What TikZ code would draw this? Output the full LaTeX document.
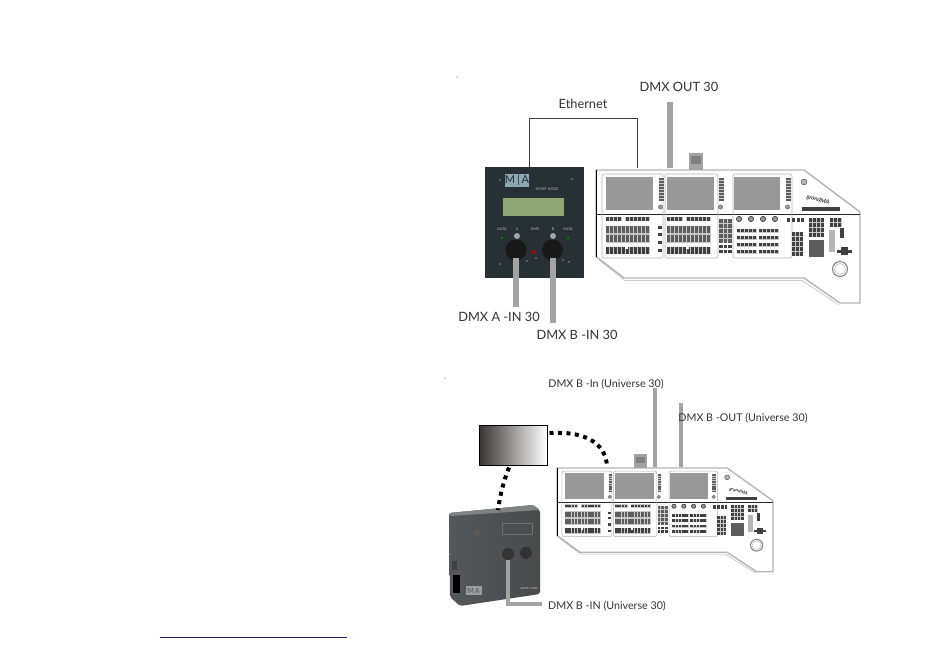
\documentclass[tikz,border=0pt]{standalone}
\usepackage{fontspec}
\setmainfont{Lato}
\usepackage{xcolor}
\definecolor{MAtext}{HTML}{333333}
\definecolor{MAcable}{HTML}{A3A3A3}
\definecolor{MAscreen}{HTML}{989898}
\definecolor{MAkey}{HTML}{404040}
\definecolor{MAband}{HTML}{C8C8C8}
\definecolor{MAedge}{HTML}{B5B5B5}
\definecolor{MAbox}{HTML}{273034}
\definecolor{MAlcd}{HTML}{8FA874}
\definecolor{MAlogo}{HTML}{8DA7B3}
\definecolor{MAdevice}{HTML}{55585A}
\definecolor{MAfade}{HTML}{3A3232}
\definecolor{MAlink}{HTML}{2C1C6C}
\usetikzlibrary{calc, positioning}

\begin{document}
\begin{tikzpicture}[x=1pt, y=-1pt]
\tikzset{
  biglabel/.style={MAtext, font=\fontsize{12.8}{15}\selectfont, inner sep=0},
  smalllabel/.style={MAtext, font=\fontsize{10.7}{12}\selectfont, inner sep=0},
  tinylabel/.style={white!75!black, font=\fontsize{3.6}{4}\selectfont, inner sep=0},
  cable/.style={MAcable, line width=6pt},
  thincable/.style={MAcable, line width=4pt},
  link/.style={black, line width=4pt, dash pattern=on 4pt off 4.5pt},
  key/.style={fill=MAkey},
  softkey/.style={fill=MAkey!85},
  band/.style={fill=MAband},
  section/.style={MAedge, line width=0.6pt, rounded corners=2pt},
  console/.pic={
    % body
    \draw[MAedge, line width=1.4pt, fill=white] (0,0) -- (208,0) -- (264,42) -- (264,133)
      -- (244,133) -- (208,108) -- (28,108) -- (2,88) -- (0,87) -- cycle;
    \draw[MAedge, line width=0.5pt] (3,90) -- (29,110.5) -- (206,110.5) -- (243,135);
    \draw[black, line width=1pt] (0,0) -- (0,87);
    \draw[black!85, line width=0.9pt] (0,44) -- (264,44);
    % sections
    \draw[section] (6,4) rectangle (67,88);
    \draw[section] (69,4) rectangle (122,88);
    \draw[section] (137,4) rectangle (196,88);
    % screens
    \fill[MAscreen] (10,7) rectangle (57,40);
    \fill[MAscreen] (71,7) rectangle (118,40);
    \fill[MAscreen] (138,7) rectangle (184,40);
    % softkeys next to the screens
    \foreach \x in {63,123,190} {
      \fill[band] (\x,8) rectangle ++(4.5,23);
      \foreach \y in {8,11,...,29}
        \fill[softkey] (\x,\y) rectangle ++(4.5,2);
      \draw[MAkey!80, fill=MAscreen] (\x+1.5,37) circle (2.2);
    }
    % executor keys and faders
    \foreach \s in {0,61} {
      \fill[band] (\s+10,46.5) rectangle ++(43.5,4.5);
      \fill[band] (\s+10,55.5) rectangle ++(43.5,17);
      \fill[band] (\s+10,76.5) rectangle ++(43.5,7.5);
      \foreach \x in {10,14,18,22,26,30,34,38,42,46,50} {
        \fill[key] (\s+\x,47) rectangle ++(3,3.5);
        \fill[softkey] (\s+\x,56) rectangle ++(3,7);
        \fill[softkey] (\s+\x,65) rectangle ++(3,7);
        \fill[key] (\s+\x,77) rectangle ++(3,6.5);
      }
      \fill[white] (\s+25.8,46) rectangle ++(3.4,5);
      \fill[white] (\s+29,75) rectangle ++(2.5,4);
    }
    % centre column
    \foreach \y in {56,63,71,79}
      \fill[key] (62,\y) rectangle ++(4,3);
    \fill[band] (123,49) rectangle (136,72);
    \foreach \x in {123,127.5,132} {
      \foreach \y in {49,54,...,69}
        \fill[softkey] (\x,\y) rectangle ++(3.5,3.6);
      \foreach \y in {75,79.5}
        \fill[key] (\x,\y) rectangle ++(3.5,3.4);
    }
    % encoders
    \foreach \x in {143,155,167,179}
      \draw[MAkey, line width=0.7pt, fill=MAscreen] (\x,49) circle (2.6);
    % programmer keys
    \foreach \x in {141,145,149,153,157,163,167,171,175,179} {
      \foreach \y in {59,66,73,80} {
        \fill[band] (\x,\y-0.5) rectangle ++(4,4.2);
        \fill[key] (\x,\y) rectangle ++(3,3.2);
      }
    }
    % right hand blocks
    \foreach \x in {191,196,201,205} 
      \fill[key] (\x,48) rectangle ++(3,4);
    \fill[band] (196,62) rectangle (207,86);
    \foreach \x in {196,200,204} {
      \foreach \y in {62,67,...,82}
        \fill[key] (\x,\y) rectangle ++(3,3.6);
    }
    \fill[band] (213,48) rectangle (228,67);
    \foreach \x in {213,217,221,225} {
      \foreach \y in {48,53,58,63}
        \fill[key] (\x,\y) rectangle ++(3,3.6);
    }
    \fill[MAkey!85] (213,70) rectangle (228,87);
    \fill[band] (234,48) rectangle (246,57);
    \foreach \x in {234,238,242} {
      \foreach \y in {48,53}
        \fill[key] (\x,\y) rectangle ++(3,3.6);
    }
    \fill[key] (244,58) rectangle ++(4,10);
    \fill[MAscreen!70] (233,60) rectangle ++(6,22);
    % cursor cross and wheel
    \fill[key] (245,77) rectangle ++(7,8);
    \fill[key] (241,79.5) rectangle ++(15,3);
    \draw[MAedge!70!black, line width=1pt] (244,99) circle (7.5);
    \draw[MAedge, line width=0.5pt] (244,99) circle (5.5);
    % logo field
    \draw[MAkey, fill=MAedge] (208,12) circle (3);
    \node[black, rotate=-15, transform shape, font=\fontsize{6}{6}\itshape\selectfont, inner sep=0] (brand) at (222,30) {grandMA};
    \fill[MAkey] (206,37) rectangle (244,41);
  },
}
  \useasboundingbox (0,0) rectangle (950,648);

  % Upper setup: sport node with console
  \node[fill=MAbox, minimum width=99pt, minimum height=111pt, inner sep=0] (sportA) at (534.5,222.5) {};
  \node[fill=MAlogo, minimum width=24pt, minimum height=13pt, inner sep=0, font=\fontsize{11}{11}\selectfont, text=MAbox] (logoA) at (517,180.5) {M\,|\,A};
  \node[tinylabel] (nameA) at (547,189) {SPORT NODE};
  \node[fill=MAlcd, minimum width=61pt, minimum height=18pt, inner sep=0] (lcdA) at (533.5,207) {};
  \node[tinylabel] (dataAl) at (502,229) {DATA};
  \node[tinylabel] (portAl) at (517,229) {A};
  \node[tinylabel] (dmxAl) at (535,229) {DMX};
  \node[tinylabel] (portBl) at (553,229) {B};
  \node[tinylabel] (dataBl) at (568,229) {DATA};
  \node[circle, fill=black!90, minimum size=21pt, inner sep=0] (xlrA) at (516,250) {};
  \node[circle, fill=black!90, minimum size=21pt, inner sep=0] (xlrB) at (552.5,250) {};
  \node[circle, fill=black!35, minimum size=6pt, inner sep=0] (latchA) at (517,236) {};
  \node[circle, fill=black!35, minimum size=6pt, inner sep=0] (latchB) at (553,236) {};
  \node[circle, fill=red!70!black, minimum size=4pt, inner sep=0] (ledA) at (533.5,252) {};
  \node[circle, fill=green!55!black, minimum size=2.5pt, inner sep=0] (ledB) at (502,238) {};
  \node[circle, fill=green!55!black, minimum size=2.5pt, inner sep=0] (ledC) at (568,238) {};
  \foreach \x/\y in {500/180, 572/179, 500/264, 569/262, 527/261, 536/258, 563/260}
    \fill[black!45] (\x,\y) circle (0.8);
  \pic at (596,170) {console};
  \fill[MAcable] (689,153) rectangle (703,170);
  \fill[black!50] (691,156) rectangle (701,164);

  \coordinate (etherA) at (529,167);
  \coordinate (etherB) at (637,168);
  \draw[black!75, line width=0.6pt] (etherA) -- ++(0,-49) -| (etherB);
  \coordinate (outTop) at (670,102);
  \coordinate (outEnd) at (670,168);
  \coordinate (inAEnd) at (516,307);
  \coordinate (inBEnd) at (552.5,323);
  \draw[cable] (outTop) -- (outEnd);
  \draw[cable] (xlrA.south) ++(0,-3) -- (inAEnd);
  \draw[cable] (xlrB.south) ++(0,-3) -- (inBEnd);

  \node[biglabel] (etherLabel) at (583,104) {Ethernet};
  \node[biglabel] (outLabel) at (679,87) {DMX OUT 30};
  \node[biglabel] (inALabel) at (499,317) {DMX A -IN 30};
  \node[biglabel] (inBLabel) at (577,335) {DMX B -IN 30};

  % Lower setup: device, network box, console
  \pic[xscale=0.818, yscale=0.78] at (557,468) {console};
  \fill[MAcable] (634,454) rectangle (647,468);
  \fill[black!50] (636,457) rectangle (645,463);

  \node[draw=black, line width=1pt, left color=MAfade, right color=white, minimum width=68pt, minimum height=40pt, inner sep=0] (switch) at (513,445) {};
  \shade[left color=MAdevice, right color=MAdevice!85!black, rounded corners=2pt] (449,513) -- (533,505) -- (540,510) -- (540,594) -- (460,606) -- (450,597) -- cycle;
  \fill[MAdevice!75!white, rounded corners=1pt] (449,513) -- (533,505) -- (540,510) -- (450,516) -- cycle;
  \coordinate (deviceTop) at (498,510);
  \node[fill=black, minimum width=7pt, minimum height=18pt, inner sep=0] (mains) at (456.5,584) {};
  \node[fill=black!75, minimum width=5pt, minimum height=9pt, inner sep=0] (usbport) at (454,565) {};
  \node[fill=MAdevice!60!white, minimum width=16pt, minimum height=9pt, inner sep=0, font=\fontsize{7}{7}\selectfont, text=MAdevice] (logoB) at (473.5,590.5) {M\,A};
  \node[circle, fill=black!65, minimum size=6pt, inner sep=0] (button) at (477,533) {};
  \node[tinylabel] (nameB) at (529,588) {sport node};
  \node[draw=MAdevice!85!white, line width=0.3pt, minimum width=30pt, minimum height=11pt, inner sep=0] (display) at (517,529) {};
  \node[circle, fill=black!80, minimum size=12pt, inner sep=0] (xlrC) at (508,554) {};
  \node[circle, fill=black!80, minimum size=12pt, inner sep=0] (xlrD) at (526,553) {};

  \draw[link] (switch.south) ++(-4,2) .. controls (504,480) and (500,495) .. (deviceTop);
  \coordinate (consoleNet) at (607,467);
  \draw[link] (switch.east) ++(2,-12) .. controls (580,431) and (606,440) .. (consoleNet);

  \coordinate (inTop) at (655,388);
  \coordinate (inEnd) at (655,467);
  \coordinate (outBTop) at (681,403);
  \coordinate (outBEnd) at (681,467);
  \coordinate (cableBend) at (508,604);
  \coordinate (cableEnd) at (542,604);
  \draw[thincable] (inTop) -- (inEnd);
  \draw[thincable] (outBTop) -- (outBEnd);
  \draw[thincable] (xlrC.south) -- (cableBend) -- (cableEnd);

  \node[smalllabel] (inLabel) at (606,384) {DMX B -In (Universe 30)};
  \node[smalllabel] (outBLabel) at (743,418) {DMX B -OUT (Universe 30)};
  \node[smalllabel] (deviceLabel) at (607,606) {DMX B -IN (Universe 30)};

  % page marks and link line
  \fill[black] (457,77) circle (0.5);
  \fill[black] (445,378) circle (0.5);
  \draw[MAlink, line width=0.8pt] (160,637) -- (347,637);
\end{tikzpicture}
\end{document}
